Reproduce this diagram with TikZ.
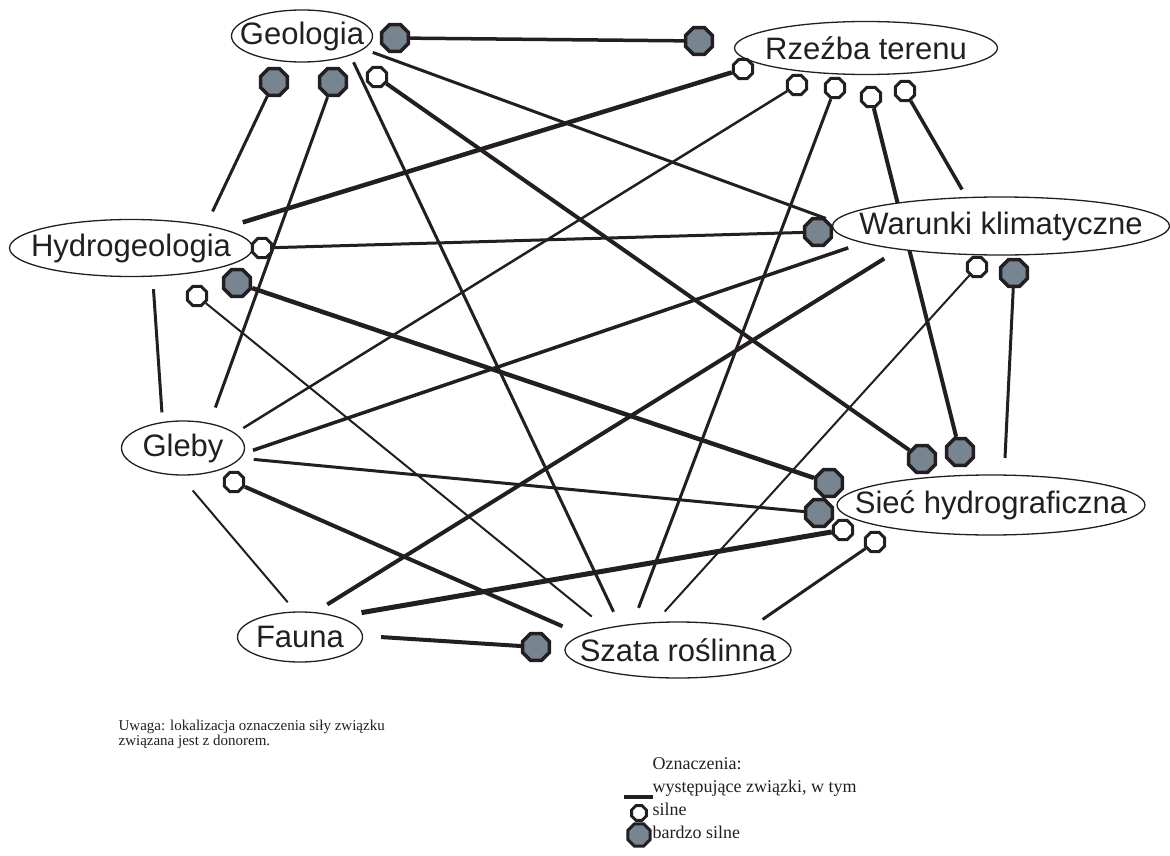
\documentclass[tikz,border=0pt]{standalone}
\usepackage{fontspec}
\setmainfont{Liberation Serif}
\setsansfont{Liberation Sans}
\usetikzlibrary{shapes.geometric, backgrounds}
\definecolor{cink}{HTML}{231F20}
\definecolor{cslate}{HTML}{778590}
\newcommand{\etykieta}[1]{\makebox[0pt]{#1}}
\tikzset{
  every picture/.style={line width=1.2pt},
  topic/.style={ellipse, draw=cink, fill=white, line width=1.3pt, inner sep=0pt, text=cink, font=\sffamily\fontsize{31}{33}\selectfont},
  silne/.style={regular polygon, regular polygon sides=8, draw=cink, fill=white, line width=3pt, minimum size=#1, inner sep=0pt},
  silne/.default=21pt,
  bsilne/.style={silne=#1, fill=cslate, line width=3.5pt},
  bsilne/.default=29pt,
  rel/.style={draw=cink, line width=#1},
  rel/.default=3pt,
  legtext/.style={font=\rmfamily\fontsize{18}{20}\selectfont, text=cink, anchor=base west, inner sep=0pt},
  uwaga/.style={font=\rmfamily\fontsize{15}{15}\selectfont, text=cink, anchor=north west, align=left, inner sep=0pt},
}
\begin{document}
\begin{tikzpicture}[x=1pt, y=-1pt]
  \useasboundingbox (0,0) rectangle (1170,856);
  % topics (pixel coordinates, y down)
  \node[topic, minimum width=141pt, minimum height=52pt] (geo) at (302,36) {\etykieta{Geologia}};
  \node[topic, minimum width=263pt, minimum height=53pt] (rze) at (866,48) {\etykieta{Rzeźba terenu}};
  \node[topic, minimum width=243pt, minimum height=57pt] (hyd) at (131,248) {\etykieta{Hydrogeologia}};
  \node[topic, minimum width=337pt, minimum height=58pt] (war) at (1001,226) {\etykieta{Warunki klimatyczne}};
  \node[topic, minimum width=123pt, minimum height=54pt] (gle) at (183,448) {\etykieta{Gleby}};
  \node[topic, minimum width=308pt, minimum height=60pt] (sie) at (991,505) {\etykieta{Sieć hydrograficzna}};
  \node[topic, minimum width=125pt, minimum height=50pt] (fau) at (300,637) {\etykieta{Fauna}};
  \node[topic, minimum width=226pt, minimum height=56pt] (sza) at (678,650) {\etykieta{Szata roślinna}};
  % strength marks at the donor
  \node[bsilne] (ga) at (395,38) {};
  \node[bsilne] (gb) at (274,82) {};
  \node[bsilne] (gc) at (333,82) {};
  \node[silne] (gd) at (377,77) {};
  \node[bsilne] (ra) at (699,41) {};
  \node[silne] (rb) at (743,69) {};
  \node[silne] (rc) at (797,85) {};
  \node[silne] (rd) at (835,88) {};
  \node[silne] (re) at (871,97) {};
  \node[silne] (rf) at (905,91) {};
  \node[silne] (ha) at (262,248) {};
  \node[bsilne] (hb) at (237,283) {};
  \node[silne] (hc) at (197,296) {};
  \node[bsilne] (wa) at (818,232) {};
  \node[silne] (wb) at (977,267) {};
  \node[bsilne] (wc) at (1014,273) {};
  \node[silne] (gla) at (234,482) {};
  \node[bsilne] (sa) at (922,459) {};
  \node[bsilne] (sb) at (960,452) {};
  \node[bsilne] (sc) at (829,483) {};
  \node[bsilne] (sd) at (819,513) {};
  \node[silne] (se) at (843,530) {};
  \node[silne] (sf) at (875,542) {};
  \node[bsilne] (sza1) at (536,647) {};
  \coordinate (wcend) at (1005,458);
  % relations
  \begin{scope}[on background layer]
    \draw[rel=3.5pt] (ga) -- (ra);
    \draw[rel, shorten >=15pt] (gb) -- (hyd.17);
    \draw[rel, shorten >=16.5pt] (gc) -- (gle.43);
    \draw[rel, shorten <=7.5pt, shorten >=15pt] (geo.338) -- (sza.157);
    \draw[rel=4pt] (gd) -- (sa);
    \draw[rel, shorten <=9.5pt] (geo.348) -- (wa.60);
    \draw[rel=4.5pt, shorten >=21.5pt] (rb) -- (hyd.12);
    \draw[rel=2.5pt, shorten >=9.5pt] (rc) -- (gle.16);
    \draw[rel, shorten >=17pt] (rd) -- (sza.150);
    \draw[rel=4pt] (re) -- (sb);
    \draw[rel=3.5pt, shorten >=8.7pt] (rf) -- (war.140);
    \draw[rel] (ha) -- (wa);
    \draw[rel=4.5pt] (hb) -- (sc);
    \draw[rel=2pt, shorten >=18pt] (hc) -- (sza.163);
    \draw[rel, shorten <=12.5pt, shorten >=9.5pt] (hyd.307) -- (gle.128);
    \draw[rel=2pt, shorten >=14pt] (wb) -- (sza.129);
    \draw[rel] (wc) -- (wcend);
    \draw[rel=3.5pt, shorten <=15pt, shorten >=9.5pt] (war.187) -- (gle.355);
    \draw[rel=4pt, shorten <=17pt, shorten >=14.5pt] (war.193) -- (fau.59);
    \draw[rel, shorten <=13pt] (gle.350) -- (sd);
    \draw[rel=4pt, shorten >=21pt] (gla) -- (sza.171);
    \draw[rel=2pt, shorten <=19.5pt, shorten >=12pt] (gle.264) -- (fau.100);
    \draw[rel=5pt, shorten <=23.5pt] (fau.28) -- (se);
    \draw[rel=4pt, shorten <=18pt] (fau.1) -- (sza1);
    \draw[rel, shorten >=15pt] (sf) -- (sza.17);
  \end{scope}
  % note and legend
  \node[uwaga] (uwaga) at (118,719) {Uwaga: lokalizacja oznaczenia siły związku\\związana jest z donorem.};
  \node[legtext] (ozn) at (652,769) {Oznaczenia:};
  \node[legtext] (lzw) at (652,792) {występujące związki, w tym};
  \node[legtext] (lsi) at (652,815) {silne};
  \node[legtext] (lbs) at (652,838) {bardzo silne};
  \coordinate (lgA) at (624,797);
  \coordinate (lgB) at (653,797);
  \draw[rel=4pt] (lgA) -- (lgB);
  \node[silne=16pt, line width=2.8pt] (lsilne) at (639,813) {};
  \node[bsilne=24pt, line width=3pt] (lbsilne) at (639,835) {};
\end{tikzpicture}
\end{document}
